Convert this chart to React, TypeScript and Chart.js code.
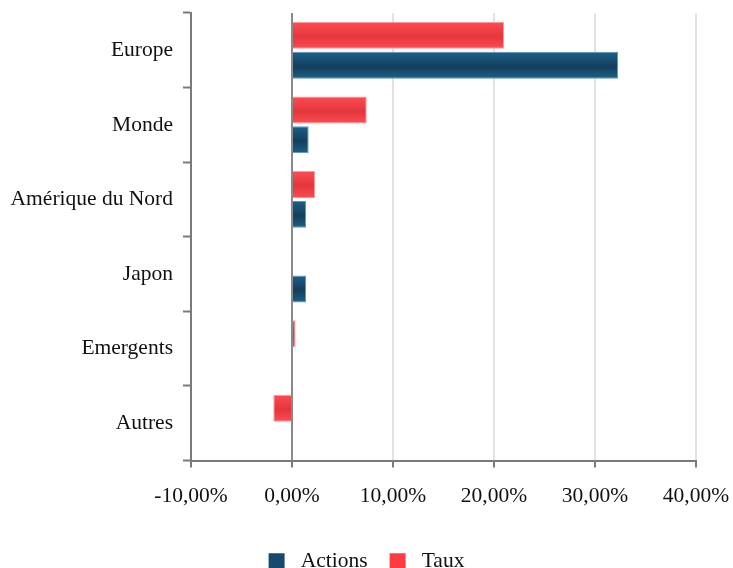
import { useEffect, useRef } from 'react';
import { Chart, registerables } from 'chart.js';
Chart.register(...registerables);

const categories = ['Europe', 'Monde', 'Amérique du Nord', 'Japon', 'Emergents', 'Autres'];
const actionsValues = [32.3, 1.65, 1.4, 1.4, 0, 0];
const tauxValues = [21.0, 7.4, 2.3, 0, 0.35, -1.85];
const xMin = -10;
const xMax = 40;
const xStep = 10;

const FONT = '"Liberation Serif", "Times New Roman", serif';

function gradientFor(ctx: any, light: string, dark: string) {
  const chart = ctx.chart;
  const y = chart.scales && chart.scales.y;
  if (ctx.type !== 'data' || !y || !chart.chartArea) return dark;
  const n = categories.length;
  const cat = (y.bottom - y.top) / n;
  const center = y.getPixelForValue(ctx.dataIndex);
  const d = ctx.datasetIndex;
  const bc = center - 0.2 * cat + 0.4 * cat * d;
  const th = 0.36 * cat;
  const top = bc - th / 2;
  const bot = bc + th / 2;
  if (!isFinite(top) || !isFinite(bot) || bot <= top) return dark;
  const g = chart.ctx.createLinearGradient(0, top, 0, bot);
  g.addColorStop(0, light);
  g.addColorStop(0.55, dark);
  g.addColorStop(1, light);
  return g;
}

export default function App() {
  const ref = useRef<HTMLCanvasElement | null>(null);
  useEffect(() => {
    if (!ref.current) return;
    const chart = new Chart(ref.current, {
      type: 'bar',
      data: {
        labels: categories,
        datasets: [
          {
            label: 'Taux',
            data: tauxValues,
            backgroundColor: (c: any) => gradientFor(c, '#ff4b51', '#e2373c'),
            borderColor: '#ff9a9c',
            borderWidth: 1,
          },
          {
            label: 'Actions',
            data: actionsValues,
            backgroundColor: (c: any) => gradientFor(c, '#1c6089', '#133f5b'),
            borderColor: '#5b93ba',
            borderWidth: 1,
          },
        ],
      },
      options: {
        indexAxis: 'y',
        animation: false,
        responsive: false,
        maintainAspectRatio: false,
        devicePixelRatio: 1,
        layout: { padding: { top: 13, left: 0, right: 0, bottom: 0 } },
        plugins: {
          tooltip: { enabled: false },
          legend: {
            position: 'bottom',
            labels: {
              font: { family: FONT, size: 21.5 },
              color: '#111',
              boxWidth: 16,
              boxHeight: 16,
              padding: 22,
              generateLabels: (ch: any) => {
                const solid = ['#ff3b42', '#154a6c'];
                return [1, 0].map((i) => ({
                  text: ' ' + ch.data.datasets[i].label,
                  fillStyle: solid[i],
                  strokeStyle: solid[i],
                  lineWidth: 0,
                  hidden: false,
                  datasetIndex: i,
                  fontColor: '#111',
                }));
              },
            },
          },
        },
        scales: {
          x: {
            min: xMin,
            max: xMax,
            ticks: {
              stepSize: xStep,
              font: { family: FONT, size: 21.5 },
              color: '#111',
              padding: 16,
              callback: (v: any) => Number(v).toFixed(2).replace('.', ',') + '%',
            },
            grid: {
              color: (c: any) => (c.tick && c.tick.value === 0 ? '#8a8a8a' : c.tick && c.tick.value === xMin ? 'rgba(0,0,0,0)' : '#e2e2e2'),
              lineWidth: 2,
              tickColor: '#7a7a7a',
              tickLength: 7,
              tickWidth: 2,
            },
            border: { color: '#7a7a7a', width: 2 },
            afterFit: (s: any) => {
              s.height = 68;
              s.paddingRight = 37;
              s.paddingLeft = 0;
            },
          },
          y: {
            ticks: {
              font: { family: FONT, size: 21.5 },
              color: '#111',
              padding: 10,
            },
            grid: {
              drawOnChartArea: false,
              tickColor: '#7a7a7a',
              tickLength: 8,
              tickWidth: 2,
            },
            border: { color: '#7a7a7a', width: 2 },
            afterFit: (s: any) => {
              s.width = 191;
              s.paddingTop = 0;
              s.paddingBottom = 0;
            },
          },
        },
      },
    } as any);
    return () => chart.destroy();
  }, []);
  return (
    <div style={{ position: 'fixed', left: 0, top: 0, width: 733, height: 582, background: '#fff' }}>
      <canvas ref={ref} width={733} height={582} style={{ width: 733, height: 582, display: 'block' }} />
    </div>
  );
}
